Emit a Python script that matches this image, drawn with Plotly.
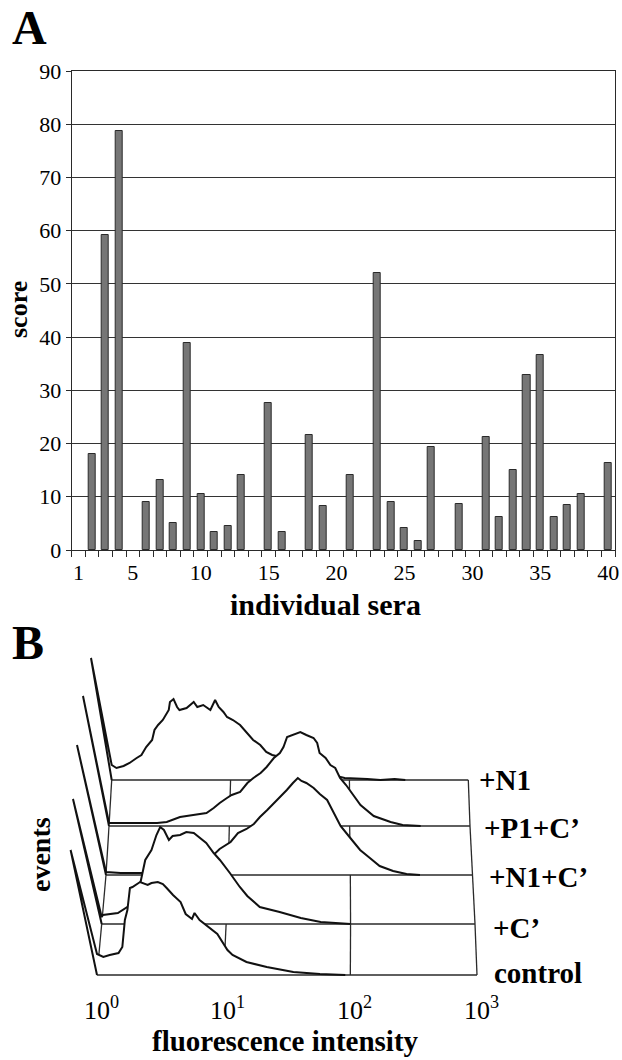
import plotly.graph_objects as go

W, H = 622, 1060
SERIF = "Liberation Serif, Times New Roman, serif"

# ---------------- Panel A data ----------------
sera = list(range(1, 41))
score = [None, 18.0, 59.1, 78.7, None, 9.1, 13.2, 5.1, 38.9, 10.5,
         3.3, 4.6, 14.1, None, 27.7, 3.3, None, 21.7, 8.3, None,
         14.0, None, 52.1, 9.0, 4.2, 1.7, 19.3, None, 8.6, None,
         21.3, 6.2, 15.0, 32.9, 36.6, 6.2, 8.5, 10.6, None, 16.3]
sera_ticks = [1, 5, 10, 15, 20, 25, 30, 35, 40]
score_ticks = list(range(0, 91, 10))

# ---------------- Panel B data ----------------
# histograms: log10 fluorescence intensity vs events (front -> back)
layer_names = ["control", "+C’", "+N1+C’", "+P1+C’", "+N1"]

control_logI = [0, 0.05, 0.10, 0.17, 0.20, 0.21, 0.22, 0.24, 0.26, 0.28,
                0.34, 0.40, 0.43, 0.48, 0.52, 0.55, 0.60, 0.66, 0.70, 0.75,
                0.77, 0.81, 0.87, 0.95, 1.03, 1.07, 1.18, 1.34, 1.55, 1.76, 1.96]
control_events = [21, 18, 20, 22, 28, 42, 55, 65, 87, 88,
                  93, 90, 92, 93, 91, 87, 80, 73, 61, 56,
                  62, 55, 49, 41, 25, 20, 13, 8, 3, 1, 0]

c_logI = [0, 0.01, 0.13, 0.17, 0.23, 0.29, 0.33, 0.35, 0.40, 0.44,
          0.47, 0.50, 0.54, 0.57, 0.63, 0.68, 0.74, 0.79, 0.84, 0.90,
          0.95, 1.03, 1.11, 1.17, 1.27, 1.43, 1.60, 1.76, 1.88, 2.00]
c_events = [7, 9, 11, 14, 19, 29, 51, 64, 74, 89,
            97, 94, 84, 88, 89, 92, 91, 86, 81, 71,
            64, 51, 37, 28, 17, 12, 6, 2, 1, 0]

n1c_logI = [0, 0.12, 0.30, 0.44, 0.61, 0.77, 0.88, 0.93, 1.02, 1.08,
            1.15, 1.21, 1.26, 1.32, 1.37, 1.42, 1.48, 1.53, 1.57, 1.60,
            1.64, 1.70, 1.75, 1.81, 1.86, 1.92, 2.00, 2.08, 2.16, 2.24,
            2.35, 2.46, 2.57]
n1c_events = [3, 2, 2, 4, 8, 15, 20, 26, 33, 42,
              46, 51, 58, 65, 71, 78, 85, 92, 97, 94,
              92, 87, 81, 75, 63, 49, 37, 25, 17, 9,
              4, 1, 0]

p1c_logI = [0, 0.18, 0.40, 0.48, 0.59, 0.70, 0.81, 0.87, 0.92, 0.98,
            1.02, 1.09, 1.15, 1.20, 1.26, 1.31, 1.37, 1.42, 1.45, 1.48,
            1.53, 1.59, 1.64, 1.70, 1.73, 1.75, 1.80, 1.84, 1.88, 1.92,
            1.97, 2.03, 2.09, 2.20, 2.34, 2.44, 2.59]
p1c_events = [3, 3, 3, 4, 9, 11, 13, 18, 23, 28,
              31, 34, 43, 48, 53, 59, 68, 73, 79, 89,
              91, 94, 91, 88, 83, 73, 68, 61, 58, 48,
              41, 31, 21, 10, 4, 1, 0]

n1_logI = [0, 0.04, 0.10, 0.15, 0.21, 0.25, 0.29, 0.34, 0.36, 0.39,
           0.43, 0.48, 0.49, 0.52, 0.55, 0.57, 0.63, 0.69, 0.72, 0.77,
           0.83, 0.87, 0.90, 0.94, 0.97, 1.02, 1.08, 1.14, 1.19, 1.25,
           1.30, 1.35, 1.42, 1.50, 1.58, 1.71, 1.84, 1.96, 2.15, 2.26,
           2.38, 2.47]
n1_events = [15, 12, 14, 17, 22, 25, 33, 40, 50, 55,
             60, 70, 78, 81, 73, 70, 72, 78, 73, 75,
             70, 80, 73, 68, 63, 60, 55, 47, 40, 35,
             28, 25, 23, 19, 14, 9, 5, 2, 1, 0,
             1, 0]

# off-scale first channel (events) of each histogram
spike_events = [125, 125, 130, 130, 122]
decade_labels = ["10<sup>0</sup>", "10<sup>1</sup>", "10<sup>2</sup>", "10<sup>3</sup>"]

layers_logI = [control_logI, c_logI, n1c_logI, p1c_logI, n1_logI]
layers_events = [control_events, c_events, n1c_events, p1c_events, n1_events]

# pseudo-3D layout of the overlay (screen geometry)
base = [975, 924, 875, 826, 780]
left = [97, 101.7, 106, 109, 111.7]
right = [477, 475, 472.5, 470, 468.3]
lean = [26.4, 28.7, 29, 26, 20.7]
label_y = [973, 928, 877, 828, 780]
label_x = [492, 491, 487, 482, 477]

FLOOR = "#2a2a2a"
CURVE = "#111111"


def px(k, li):
    return left[k] + li / 3.0 * (right[k] - left[k])


fig = go.Figure()

# ---------------- Panel A ----------------
fig.add_trace(go.Bar(
    x=sera, y=score, width=0.52,
    marker=dict(color="#767676", line=dict(color="#2a2a2a", width=1)),
    xaxis="x", yaxis="y", showlegend=False, hoverinfo="skip"))

# ---------------- Panel B ----------------
for k in range(4, -1, -1):
    if k < 4:
        fx, fy = [], []
        for d in range(4):
            fx += [px(k, d), px(k + 1, d), None]
            fy += [base[k], base[k + 1], None]
        fig.add_trace(go.Scatter(x=fx, y=fy, mode="lines",
                                 line=dict(color=FLOOR, width=1.3),
                                 xaxis="x2", yaxis="y2", showlegend=False,
                                 hoverinfo="skip"))
    xs = [px(k, li) for li in layers_logI[k]]
    ys = [base[k] - e for e in layers_events[k]]
    top_x = left[k] - lean[k]
    top_y = base[k] - spike_events[k]
    fig.add_trace(go.Scatter(
        x=[left[k], top_x] + xs + [xs[-1], left[k]],
        y=[base[k], top_y] + ys + [base[k], base[k]],
        mode="lines", fill="toself", fillcolor="white",
        line=dict(width=0, color="white"),
        xaxis="x2", yaxis="y2", showlegend=False, hoverinfo="skip"))
    fig.add_trace(go.Scatter(
        x=[left[k], right[k]], y=[base[k], base[k]], mode="lines",
        line=dict(color=FLOOR, width=1.3),
        xaxis="x2", yaxis="y2", showlegend=False, hoverinfo="skip"))
    fig.add_trace(go.Scatter(
        x=[left[k], top_x] + xs, y=[base[k], top_y] + ys, mode="lines",
        line=dict(color=CURVE, width=2),
        xaxis="x2", yaxis="y2", showlegend=False, hoverinfo="skip"))


def txt(text, x, y, size, bold=True, angle=0, xanchor="center", ref="paper"):
    if ref == "paper":
        xr, yr, xv, yv = "paper", "paper", x / W, 1 - y / H
    else:
        xr, yr, xv, yv = "x2", "y2", x, y
    return dict(text=("<b>%s</b>" % text) if bold else text, x=xv, y=yv, xref=xr, yref=yr,
                xanchor=xanchor, yanchor="middle", textangle=angle, showarrow=False,
                font=dict(family=SERIF, size=size, color="black"))


annotations = [
    txt("A", 30, 27, 48),
    txt("score", 18, 310, 26, angle=-90),
    txt("individual sera", 325, 604, 30),
    txt("B", 28, 642, 48),
    txt("fluorescence intensity", 285, 1041, 29, ref="y2"),
    txt("events", 40, 855, 28, angle=-90, ref="y2"),
]
for k in range(5):
    annotations.append(txt(layer_names[k], label_x[k], label_y[k], 29, xanchor="left", ref="y2"))
for d in range(4):
    annotations.append(txt(decade_labels[d], px(0, d) + 4, 1008, 26, bold=False, ref="y2"))

fig.update_layout(
    width=W, height=H,
    margin=dict(l=0, r=0, t=0, b=0, pad=0),
    paper_bgcolor="white", plot_bgcolor="rgba(0,0,0,0)",
    showlegend=False,
    bargap=0,
    font=dict(family=SERIF, color="black"),
    xaxis=dict(domain=[71.7 / W, 615 / W], range=[0.5, 40.5], anchor="y", automargin=False,
               tickvals=sera_ticks, ticks="", showgrid=False, zeroline=False,
               showline=True, linecolor="#2a2a2a", linewidth=1.3, mirror=True,
               tickfont=dict(family=SERIF, size=22, color="black"),
               ticklabelstandoff=2,
               minor=dict(ticks="outside", ticklen=6, tick0=0.5, dtick=1,
                          tickcolor="#2a2a2a", tickwidth=1.2, showgrid=False)),
    yaxis=dict(domain=[1 - 550 / H, 1 - 71 / H], range=[0, 90], anchor="x", automargin=False,
               tickvals=score_ticks, ticks="outside", ticklen=5, tickcolor="#2a2a2a",
               showgrid=True, gridcolor="#333333", gridwidth=1.2, zeroline=False,
               showline=True, linecolor="#2a2a2a", linewidth=1.3, mirror=True,
               tickfont=dict(family=SERIF, size=22, color="black")),
    xaxis2=dict(domain=[0, 1], range=[0, W], anchor="y2", visible=False, automargin=False),
    yaxis2=dict(domain=[0, (H - 620) / H], range=[H, 620], anchor="x2", visible=False,
                automargin=False),
    annotations=annotations,
)

fig.write_html("out.html", config={"displayModeBar": False},
               post_script="document.body.style.margin='0';")
